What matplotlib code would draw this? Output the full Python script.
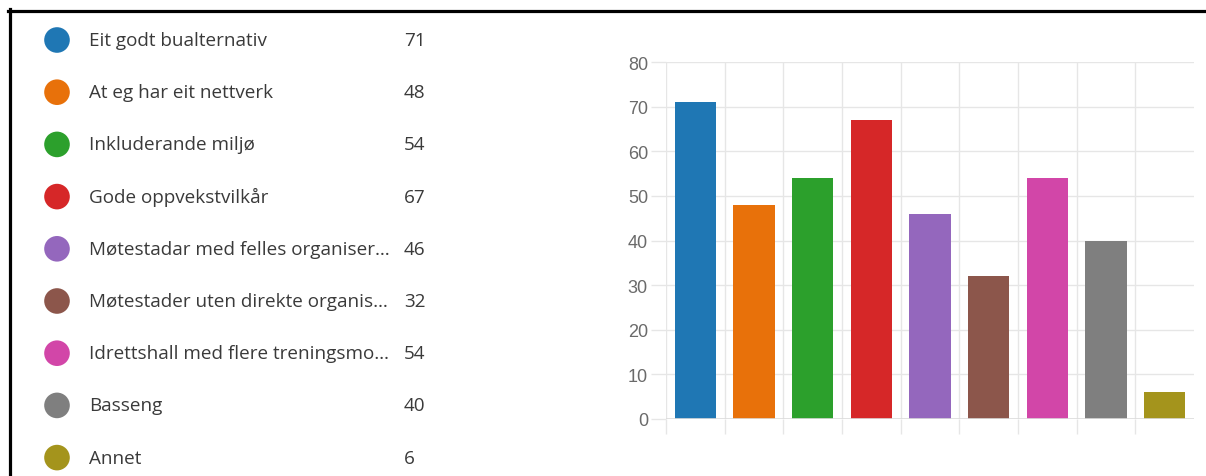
import matplotlib.pyplot as plt
from matplotlib.lines import Line2D

categories = ["Eit godt bualternativ",
              "At eg har eit nettverk",
              "Inkluderande miljø",
              "Gode oppvekstvilkår",
              "Møtestadar med felles organiser…",
              "Møtestader uten direkte organis…",
              "Idrettshall med flere treningsmo…",
              "Basseng",
              "Annet"]
counts = [71, 48, 54, 67, 46, 32, 54, 40, 6]
colors = ["#1f77b4", "#e8710a", "#2ca02c", "#d62728", "#9467bd",
          "#8c564b", "#d246a8", "#7f7f7f", "#a4941c"]

W, H = 1206, 477
fig = plt.figure(figsize=(W / 100, H / 100), dpi=100)

# legend list on the left, in pixel coordinates
leg = fig.add_axes([0, 0, 0.5, 1])
leg.set_xlim(0, W * 0.5)
leg.set_ylim(H, 0)
leg.axis("off")
rows = [41 + i * 52.2 for i in range(len(categories))]
leg.scatter([57] * len(rows), rows, s=340, c=colors, linewidths=0)
for y, name, n in zip(rows, categories, counts):
    leg.text(89, y, name, va="center", ha="left", fontsize=13.6,
             family="Open Sans", color="#3a3a3a")
    leg.text(404, y, str(n), va="center", ha="left", fontsize=13.6,
             family="Open Sans", color="#3a3a3a")

# bar chart on the right
ax = fig.add_axes([666 / W, 1 - 420 / H, (1194 - 666) / W, (420 - 63) / H])
x = list(range(len(counts)))
ax.bar(x, counts, width=0.7, color=colors, zorder=3)
ax.set_xlim(-0.5, len(counts) - 0.5)
ax.set_ylim(0, 80)
ax.set_yticks(range(0, 81, 10))
ax.set_xticks([i - 0.5 for i in x])
ax.set_xticklabels([])
ax.grid(True, color="#e6e6e6", linewidth=1, zorder=0)
for s in ax.spines.values():
    s.set_visible(False)
ax.axhline(0, color="#dcdcdc", linewidth=1.2, zorder=4)
ax.tick_params(axis="both", length=11, width=1, color="#e6e6e6",
               labelsize=13, labelcolor="#6a6a6a", pad=2)
for lab in ax.get_yticklabels():
    lab.set_family("Liberation Sans")

# black frame lines (top and left)
fig.add_artist(Line2D([8 / W, 1], [1 - 11.5 / H, 1 - 11.5 / H],
                      transform=fig.transFigure, color="black", linewidth=2.3))
fig.add_artist(Line2D([9.5 / W, 9.5 / W], [0, 1 - 10 / H],
                      transform=fig.transFigure, color="black", linewidth=2.3))

fig.savefig("out.png", dpi=100)
